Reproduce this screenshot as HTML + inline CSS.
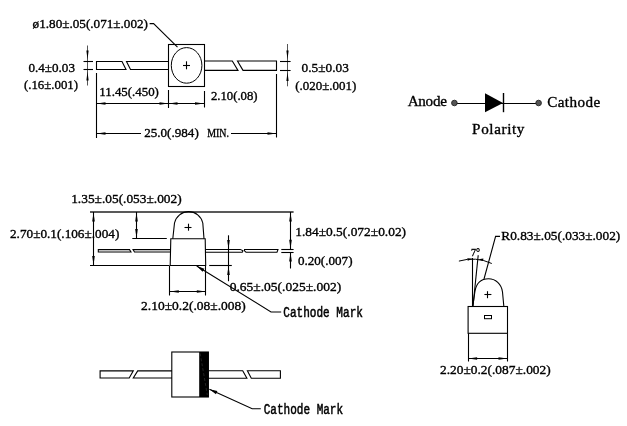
<!DOCTYPE html>
<html><head><meta charset="utf-8"><style>
html,body{margin:0;padding:0;background:#fff;width:627px;height:426px;overflow:hidden}
svg{display:block}
text{font-family:"Liberation Serif",serif;fill:#000;stroke:#000;stroke-width:0.35px}
svg{will-change:transform}
</style></head><body>
<svg width="627" height="426" viewBox="0 0 627 426">
<rect width="627" height="426" fill="#fff"/>
<g stroke-linecap="butt">
<polygon points="96.5,61.5 122,61.5 126,69.5 96.5,69.5" fill="none" stroke="#000" stroke-width="1.1"/>
<polyline points="168.5,61.5 126.5,61.5 130.5,69.5 168.5,69.5" fill="none" stroke="#000" stroke-width="1.1"/>
<rect x="168.5" y="44.5" width="36" height="42" fill="none" stroke="#000" stroke-width="1.1"/>
<ellipse cx="186.6" cy="65.4" rx="15.3" ry="17.8" fill="none" stroke="#000" stroke-width="1"/>
<line x1="183" y1="65.5" x2="190" y2="65.5" stroke="#000" stroke-width="1.1"/>
<line x1="186.5" y1="61.3" x2="186.5" y2="69.3" stroke="#000" stroke-width="1.1"/>
<polyline points="204.5,61 232.3,61 238,70.4 204.5,70.4" fill="none" stroke="#000" stroke-width="1.1"/>
<polygon points="237.5,61 276.5,61 276.5,70.4 243,70.4" fill="none" stroke="#000" stroke-width="1.1"/>
<polyline points="149.6,23.6 153.6,23.6 177.5,47.2" fill="none" stroke="#000" stroke-width="1.1"/>
<line x1="87.5" y1="45.5" x2="87.5" y2="85.5" stroke="#555" stroke-width="1"/>
<polygon points="87.5,59.5 86.40,50.50 88.60,50.50" fill="#000"/>
<polygon points="87.5,71.5 88.60,80.50 86.40,80.50" fill="#000"/>
<line x1="83.5" y1="61.5" x2="93" y2="61.5" stroke="#000" stroke-width="1.1"/>
<line x1="83.5" y1="69.5" x2="93" y2="69.5" stroke="#000" stroke-width="1.1"/>
<line x1="287.5" y1="44" x2="287.5" y2="86.3" stroke="#555" stroke-width="1"/>
<polygon points="287.5,59.5 286.40,50.50 288.60,50.50" fill="#000"/>
<polygon points="287.5,72 288.60,81.00 286.40,81.00" fill="#000"/>
<line x1="280" y1="61.5" x2="290.6" y2="61.5" stroke="#000" stroke-width="1.1"/>
<line x1="280" y1="70.5" x2="290.6" y2="70.5" stroke="#000" stroke-width="1.1"/>
<line x1="96.5" y1="73" x2="96.5" y2="138" stroke="#000" stroke-width="1.1"/>
<line x1="276.5" y1="74" x2="276.5" y2="137.5" stroke="#000" stroke-width="1.1"/>
<line x1="168.5" y1="90" x2="168.5" y2="108" stroke="#000" stroke-width="1.1"/>
<line x1="204.5" y1="91" x2="204.5" y2="107.5" stroke="#000" stroke-width="1.1"/>
<line x1="96.5" y1="103.5" x2="168.5" y2="103.5" stroke="#000" stroke-width="1.1"/>
<polygon points="96.5,103.5 105.50,102.20 105.50,104.80" fill="#000"/>
<polygon points="168.5,103.5 159.50,104.80 159.50,102.20" fill="#000"/>
<line x1="168.5" y1="103.5" x2="204" y2="103.5" stroke="#000" stroke-width="1.1"/>
<polygon points="168.5,103.5 177.50,102.20 177.50,104.80" fill="#000"/>
<polygon points="204,103.5 195.00,104.80 195.00,102.20" fill="#000"/>
<line x1="96.5" y1="133.5" x2="141" y2="133.5" stroke="#000" stroke-width="1.1"/>
<polygon points="96.5,133.5 105.50,132.20 105.50,134.80" fill="#000"/>
<line x1="231" y1="133.5" x2="276.5" y2="133.5" stroke="#000" stroke-width="1.1"/>
<polygon points="276.5,133.5 267.50,134.80 267.50,132.20" fill="#000"/>
<line x1="454.4" y1="103.5" x2="538.6" y2="103.5" stroke="#000" stroke-width="1.2"/>
<polygon points="485,93.3 485,112.3 503,103" fill="#000"/>
<line x1="503.5" y1="93" x2="503.5" y2="112.2" stroke="#000" stroke-width="1.4"/>
<circle cx="454.4" cy="103" r="2.8" fill="#555" stroke="#222" stroke-width="0.9"/>
<circle cx="538.6" cy="103" r="2.8" fill="#555" stroke="#222" stroke-width="0.9"/>
<line x1="90" y1="212" x2="293.6" y2="212" stroke="#222" stroke-width="1.3"/>
<line x1="93.5" y1="212" x2="93.5" y2="265.5" stroke="#000" stroke-width="1.1"/>
<polygon points="93.5,212.5 94.80,221.50 92.20,221.50" fill="#000"/>
<polygon points="93.5,265 92.20,256.00 94.80,256.00" fill="#000"/>
<line x1="136.5" y1="212" x2="136.5" y2="238.5" stroke="#000" stroke-width="1.1"/>
<polygon points="136.5,212.5 137.80,221.50 135.20,221.50" fill="#000"/>
<polygon points="136.5,238 135.20,229.00 137.80,229.00" fill="#000"/>
<line x1="132.3" y1="238.5" x2="166.8" y2="238.5" stroke="#000" stroke-width="1.1"/>
<line x1="90" y1="265.5" x2="169" y2="265.5" stroke="#000" stroke-width="1.1"/>
<path d="M170.2,265.5 L170.8,238.7 L205.2,238.7 L205.7,265.5 Z" fill="none" stroke="#000" stroke-width="1.1"/>
<line x1="169.5" y1="265.5" x2="169.5" y2="295.5" stroke="#000" stroke-width="1.1"/>
<line x1="205.5" y1="265.5" x2="205.5" y2="295.5" stroke="#000" stroke-width="1.1"/>
<line x1="169.8" y1="291.5" x2="205.8" y2="291.5" stroke="#000" stroke-width="1.1"/>
<polygon points="169.8,291.5 178.80,290.20 178.80,292.80" fill="#000"/>
<polygon points="205.8,291.5 196.80,292.80 196.80,290.20" fill="#000"/>
<path d="M172.8,238.7 L174.5,223 A14.5,14.5 0 0 1 202.8,223 L204,238.7" fill="none" stroke="#000" stroke-width="1.1"/>
<line x1="184.5" y1="227.5" x2="191.5" y2="227.5" stroke="#000" stroke-width="1.1"/>
<line x1="188.5" y1="223.7" x2="188.5" y2="230.7" stroke="#000" stroke-width="1.1"/>
<polygon points="98.3,249.6 129.5,249.6 131,252 98.3,252" fill="none" stroke="#000" stroke-width="1.05"/>
<polyline points="170.2,249.6 133,249.6 134.5,252 170.2,252" fill="none" stroke="#000" stroke-width="1.05"/>
<polyline points="205.5,249.4 240.2,249.4 243,250.8 242.3,252.2 205.5,252.2" fill="none" stroke="#000" stroke-width="1.05"/>
<polygon points="244.5,249.4 278,249.4 277,252.2 246,252.2 244.5,250.8" fill="none" stroke="#000" stroke-width="1.05"/>
<line x1="281.3" y1="249.5" x2="293.6" y2="249.5" stroke="#000" stroke-width="1.1"/>
<line x1="281.3" y1="252.5" x2="293.6" y2="252.5" stroke="#000" stroke-width="1.1"/>
<line x1="290.5" y1="212" x2="290.5" y2="249" stroke="#000" stroke-width="1.1"/>
<polygon points="290.5,212.5 291.80,221.50 289.20,221.50" fill="#000"/>
<polygon points="290.5,248.8 289.20,239.80 291.80,239.80" fill="#000"/>
<line x1="290.5" y1="252.3" x2="290.5" y2="268.5" stroke="#000" stroke-width="1.1"/>
<polygon points="290.5,252.5 291.80,261.50 289.20,261.50" fill="#000"/>
<line x1="228.5" y1="235.3" x2="228.5" y2="281.2" stroke="#000" stroke-width="1.1"/>
<polygon points="228.5,249.1 227.20,240.10 229.80,240.10" fill="#000"/>
<polygon points="228.5,266 229.80,275.00 227.20,275.00" fill="#000"/>
<line x1="209.2" y1="265.5" x2="231.8" y2="265.5" stroke="#000" stroke-width="1.1"/>
<polyline points="196.7,266 271,312 281.2,312" fill="none" stroke="#000" stroke-width="1.1"/>
<polygon points="196.7,266 204.40,268.77 202.61,271.66" fill="#000"/>
<rect x="468.1" y="306.5" width="39.4" height="26.8" fill="none" stroke="#000" stroke-width="1.1"/>
<line x1="468.5" y1="333.3" x2="468.5" y2="361.5" stroke="#000" stroke-width="1.1"/>
<line x1="507.5" y1="333.3" x2="507.5" y2="361.5" stroke="#000" stroke-width="1.1"/>
<line x1="468.1" y1="358.5" x2="507.5" y2="358.5" stroke="#000" stroke-width="1.1"/>
<polygon points="468.1,358.5 477.10,357.20 477.10,359.80" fill="#000"/>
<polygon points="507.5,358.5 498.50,359.80 498.50,357.20" fill="#000"/>
<path d="M472.8,306 L475,291 C476.5,283 481.5,278.8 488.5,278.8 C495.5,278.8 501.5,284 502.5,292 L503.8,306" fill="none" stroke="#000" stroke-width="1.1"/>
<line x1="484.4" y1="294.5" x2="491.4" y2="294.5" stroke="#000" stroke-width="1.1"/>
<line x1="487.5" y1="291.2" x2="487.5" y2="298.2" stroke="#000" stroke-width="1.1"/>
<rect x="484.5" y="315.5" width="7" height="3.2" fill="none" stroke="#000" stroke-width="1"/>
<line x1="472.5" y1="258" x2="472.5" y2="306" stroke="#000" stroke-width="1.1"/>
<line x1="478.2" y1="255.3" x2="473" y2="306" stroke="#000" stroke-width="1.1"/>
<path d="M458.9,261.1 A47,47 0 0 1 491.8,263.5" fill="none" stroke="#000" stroke-width="1"/>
<polygon points="472.5,258.8 467.75,260.83 467.36,258.26" fill="#000"/>
<polygon points="478.3,259.2 483.40,258.40 483.15,260.99" fill="#000"/>
<polyline points="500,236.4 495.6,236.4 484,279" fill="none" stroke="#000" stroke-width="1.1"/>
<polygon points="100.1,370.9 133.3,370.9 129.2,378 100.1,378" fill="none" stroke="#000" stroke-width="1.1"/>
<polyline points="172,370.9 137.7,370.9 133.3,378 172,378" fill="none" stroke="#000" stroke-width="1.1"/>
<rect x="171.8" y="352" width="36.6" height="45" fill="none" stroke="#000" stroke-width="1.1"/>
<rect x="199.2" y="352" width="9.2" height="45" fill="#000"/>
<line x1="200.2" y1="353.4" x2="207.3" y2="395" stroke="#444" stroke-width="0.5" stroke-dasharray="3,2"/>
<polyline points="208.4,370.7 242.7,370.7 246.9,378.3 208.4,378.3" fill="none" stroke="#000" stroke-width="1.1"/>
<polygon points="247.4,370.7 280.4,370.7 280.4,378.3 251.3,378.3" fill="none" stroke="#000" stroke-width="1.1"/>
<polyline points="209.4,389.3 252.2,408.8 260.8,408.8" fill="none" stroke="#000" stroke-width="1.1"/>
<polygon points="209.4,389.3 217.38,391.07 215.98,394.16" fill="#000"/>
</g>
<g>
<text x="32.6" y="27.5" font-size="12.9" textLength="115.4" lengthAdjust="spacingAndGlyphs">ø1.80±.05(.071±.002)</text>
<text x="28.4" y="71.8" font-size="12.9" textLength="46.6" lengthAdjust="spacingAndGlyphs">0.4±0.03</text>
<text x="23.9" y="88.5" font-size="12.9" textLength="54.2" lengthAdjust="spacingAndGlyphs">(.16±.001)</text>
<text x="301.6" y="71.6" font-size="12.9" textLength="47.2" lengthAdjust="spacingAndGlyphs">0.5±0.03</text>
<text x="295.2" y="90" font-size="12.9" textLength="61.2" lengthAdjust="spacingAndGlyphs">(.020±.001)</text>
<text x="99.3" y="95.5" font-size="12.9" textLength="59.6" lengthAdjust="spacingAndGlyphs">11.45(.450)</text>
<text x="210.9" y="99.5" font-size="12.9" textLength="46.7" lengthAdjust="spacingAndGlyphs">2.10(.08)</text>
<text x="144.2" y="136.5" font-size="12.9" textLength="54.6" lengthAdjust="spacingAndGlyphs">25.0(.984)</text>
<text x="207.2" y="136.5" font-size="12.9" textLength="21.8" lengthAdjust="spacingAndGlyphs">MIN.</text>
<text x="71.2" y="202.9" font-size="12.9" textLength="110.5" lengthAdjust="spacingAndGlyphs">1.35±.05(.053±.002)</text>
<text x="10" y="237.6" font-size="12.9" textLength="109.3" lengthAdjust="spacingAndGlyphs">2.70±0.1(.106±.004)</text>
<text x="295.2" y="235.7" font-size="12.9" textLength="110.9" lengthAdjust="spacingAndGlyphs">1.84±0.5(.072±0.02)</text>
<text x="297.9" y="264.7" font-size="12.9" textLength="54.6" lengthAdjust="spacingAndGlyphs">0.20(.007)</text>
<text x="229.7" y="290.8" font-size="12.9" textLength="111.5" lengthAdjust="spacingAndGlyphs">0.65±.05(.025±.002)</text>
<text x="141.1" y="309.5" font-size="12.9" textLength="104.7" lengthAdjust="spacingAndGlyphs">2.10±0.2(.08±.008)</text>
<text x="501.3" y="240.2" font-size="12.9" textLength="119.0" lengthAdjust="spacingAndGlyphs">R0.83±.05(.033±.002)</text>
<text x="440" y="374.4" font-size="12.9" textLength="110.7" lengthAdjust="spacingAndGlyphs">2.20±0.2(.087±.002)</text>
<text x="407.7" y="105.8" font-size="15.15" textLength="39.2" lengthAdjust="spacing">Anode</text>
<text x="547.2" y="106.5" font-size="15.15" textLength="53.0" lengthAdjust="spacing">Cathode</text>
<text x="472.1" y="133.5" font-size="15.15" textLength="52.3" lengthAdjust="spacing">Polarity</text>
<text transform="translate(283.3,317.1) scale(1,1.261)" x="0" y="0" style="font-family:Liberation Mono;stroke-width:0.4px" font-size="11.06" textLength="79.6" lengthAdjust="spacingAndGlyphs">Cathode Mark</text>
<text x="471" y="255.5" font-size="10" textLength="9.0" lengthAdjust="spacingAndGlyphs">7°</text>
<text transform="translate(263.7,413.6) scale(1,1.264)" x="0" y="0" style="font-family:Liberation Mono;stroke-width:0.4px" font-size="11.03" textLength="79.4" lengthAdjust="spacingAndGlyphs">Cathode Mark</text>
</g>
</svg>
</body></html>
